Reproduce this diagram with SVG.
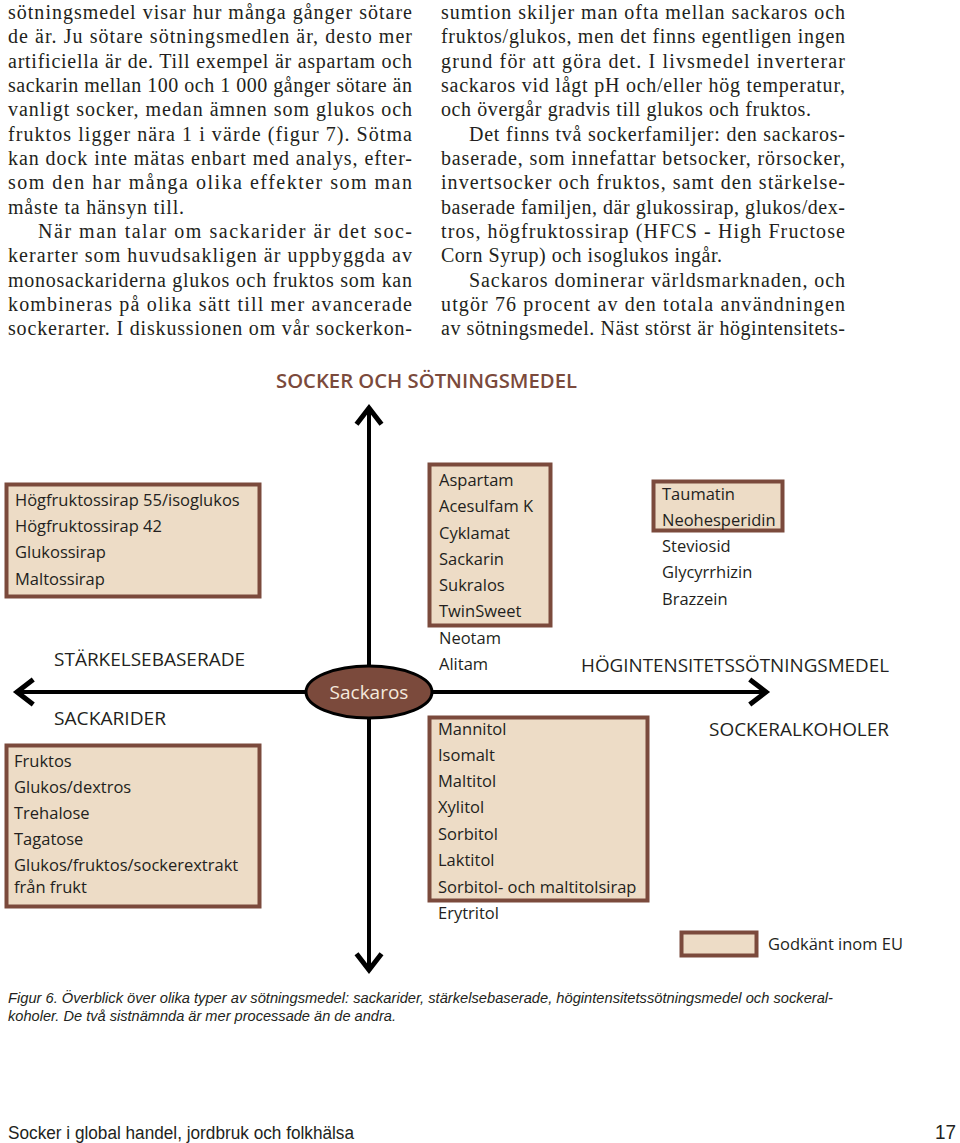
<svg xmlns="http://www.w3.org/2000/svg" width="960" height="1143" viewBox="0 0 960 1143">
<style>
.body{font-family:"Liberation Serif","Times New Roman",serif;font-size:20px;fill:#231f20}
.item{font-family:"Open Sans","Liberation Sans",sans-serif;font-size:16.5px;fill:#231f20}
.hdr{font-family:"Open Sans","Liberation Sans",sans-serif;font-size:18px;fill:#231f20}
.title{font-family:"Open Sans","Liberation Sans",sans-serif;font-size:19px;font-weight:600;fill:#7b4a3c}
.box{fill:#eddcc6;stroke:#7b4a3c;stroke-width:4}
.axis{stroke:#000;stroke-width:4;fill:none}
.cap{font-family:"Liberation Sans",sans-serif;font-size:14px;font-style:italic;fill:#231f20}
.foot{font-family:"Liberation Sans",sans-serif;fill:#231f20}
</style>
<defs>
<marker id="arr" markerUnits="userSpaceOnUse" markerWidth="30" markerHeight="30" viewBox="-16 -12 20 24" refX="0" refY="0" orient="auto">
<path d="M-13,-10 L0,0 L-13,10" fill="none" stroke="#000" stroke-width="4"/>
</marker>
</defs>
<g id="text-left">
<text class="body" x="8" y="19" textLength="404" lengthAdjust="spacing">sötningsmedel visar hur många gånger sötare</text>
<text class="body" x="8" y="43" textLength="404" lengthAdjust="spacing">de är. Ju sötare sötningsmedlen är, desto mer</text>
<text class="body" x="8" y="68" textLength="404" lengthAdjust="spacing">artificiella är de. Till exempel är aspartam och</text>
<text class="body" x="8" y="92" textLength="404" lengthAdjust="spacing">sackarin mellan 100 och 1 000 gånger sötare än</text>
<text class="body" x="8" y="116" textLength="404" lengthAdjust="spacing">vanligt socker, medan ämnen som glukos och</text>
<text class="body" x="8" y="141" textLength="404" lengthAdjust="spacing">fruktos ligger nära 1 i värde (figur 7). Sötma</text>
<text class="body" x="8" y="165" textLength="404" lengthAdjust="spacing">kan dock inte mätas enbart med analys, efter-</text>
<text class="body" x="8" y="189" textLength="404" lengthAdjust="spacing">som den har många olika effekter som man</text>
<text class="body" x="8" y="214" textLength="176" lengthAdjust="spacing">måste ta hänsyn till.</text>
<text class="body" x="38" y="238" textLength="374" lengthAdjust="spacing">När man talar om sackarider är det soc-</text>
<text class="body" x="8" y="262" textLength="404" lengthAdjust="spacing">kerarter som huvudsakligen är uppbyggda av</text>
<text class="body" x="8" y="287" textLength="404" lengthAdjust="spacing">monosackariderna glukos och fruktos som kan</text>
<text class="body" x="8" y="311" textLength="404" lengthAdjust="spacing">kombineras på olika sätt till mer avancerade</text>
<text class="body" x="8" y="335" textLength="404" lengthAdjust="spacing">sockerarter. I diskussionen om vår sockerkon-</text>
</g>
<g id="text-right">
<text class="body" x="441" y="19" textLength="404" lengthAdjust="spacing">sumtion skiljer man ofta mellan sackaros och</text>
<text class="body" x="441" y="43" textLength="404" lengthAdjust="spacing">fruktos/glukos, men det finns egentligen ingen</text>
<text class="body" x="441" y="68" textLength="404" lengthAdjust="spacing">grund för att göra det. I livsmedel inverterar</text>
<text class="body" x="441" y="92" textLength="404" lengthAdjust="spacing">sackaros vid lågt pH och/eller hög temperatur,</text>
<text class="body" x="441" y="116" textLength="370" lengthAdjust="spacing">och övergår gradvis till glukos och fruktos.</text>
<text class="body" x="469" y="141" textLength="376" lengthAdjust="spacing">Det finns två sockerfamiljer: den sackaros-</text>
<text class="body" x="441" y="165" textLength="404" lengthAdjust="spacing">baserade, som innefattar betsocker, rörsocker,</text>
<text class="body" x="441" y="189" textLength="404" lengthAdjust="spacing">invertsocker och fruktos, samt den stärkelse-</text>
<text class="body" x="441" y="214" textLength="404" lengthAdjust="spacing">baserade familjen, där glukossirap, glukos/dex-</text>
<text class="body" x="441" y="238" textLength="404" lengthAdjust="spacing">tros, högfruktossirap (HFCS - High Fructose</text>
<text class="body" x="441" y="262" textLength="281" lengthAdjust="spacing">Corn Syrup) och isoglukos ingår.</text>
<text class="body" x="469" y="287" textLength="376" lengthAdjust="spacing">Sackaros dominerar världsmarknaden, och</text>
<text class="body" x="441" y="311" textLength="404" lengthAdjust="spacing">utgör 76 procent av den totala användningen</text>
<text class="body" x="441" y="335" textLength="404" lengthAdjust="spacing">av sötningsmedel. Näst störst är högintensitets-</text>
</g>
<text id="title" class="title" x="276" y="388" textLength="301" lengthAdjust="spacingAndGlyphs">SOCKER OCH SÖTNINGSMEDEL</text>
<g id="connectors">
<line class="axis" x1="369" y1="970" x2="369" y2="408" marker-end="url(#arr)"/>
<line class="axis" x1="369" y1="408" x2="369" y2="970" marker-end="url(#arr)"/>
<line class="axis" x1="369" y1="692" x2="17" y2="692" marker-end="url(#arr)"/>
<line class="axis" x1="369" y1="692" x2="766" y2="692" marker-end="url(#arr)"/>
</g>
<g id="sackaros">
<ellipse cx="369" cy="692" rx="63" ry="26" fill="#7b4a3c" stroke="#000" stroke-width="3"/>
<text x="369" y="699" text-anchor="middle" font-family="Open Sans, Liberation Sans, sans-serif" font-size="19" fill="#f5e9dc">Sackaros</text>
</g>
<g id="starch-box">
<rect class="box" x="6.5" y="484.5" width="253" height="112"/>
<text class="item" x="15" y="506">Högfruktossirap 55/isoglukos</text>
<text class="item" x="15" y="532">Högfruktossirap 42</text>
<text class="item" x="15" y="558">Glukossirap</text>
<text class="item" x="15" y="585">Maltossirap</text>
</g>
<g id="intense-box">
<rect class="box" x="429.5" y="464.5" width="121" height="161"/>
<text class="item" x="439" y="486">Aspartam</text>
<text class="item" x="439" y="512">Acesulfam K</text>
<text class="item" x="439" y="539">Cyklamat</text>
<text class="item" x="439" y="565">Sackarin</text>
<text class="item" x="439" y="591">Sukralos</text>
<text class="item" x="439" y="617">TwinSweet</text>
<text class="item" x="439" y="644">Neotam</text>
<text class="item" x="439" y="670">Alitam</text>
</g>
<g id="natural-intense">
<rect class="box" x="653.5" y="481.5" width="129" height="49"/>
<text class="item" x="662" y="500">Taumatin</text>
<text class="item" x="662" y="526">Neohesperidin</text>
<text class="item" x="662" y="552">Steviosid</text>
<text class="item" x="662" y="578">Glycyrrhizin</text>
<text class="item" x="662" y="605">Brazzein</text>
</g>
<g id="labels">
<text class="hdr" x="581" y="672" textLength="308" lengthAdjust="spacingAndGlyphs">HÖGINTENSITETSSÖTNINGSMEDEL</text>
<text class="hdr" x="54" y="666" textLength="191" lengthAdjust="spacingAndGlyphs">STÄRKELSEBASERADE</text>
<text class="hdr" x="54" y="725" textLength="112" lengthAdjust="spacingAndGlyphs">SACKARIDER</text>
<text class="hdr" x="709" y="736" textLength="180" lengthAdjust="spacingAndGlyphs">SOCKERALKOHOLER</text>
</g>
<g id="sackarider-box">
<rect class="box" x="6.5" y="745.5" width="253" height="161"/>
<text class="item" x="14" y="767">Fruktos</text>
<text class="item" x="14" y="793">Glukos/dextros</text>
<text class="item" x="14" y="819">Trehalose</text>
<text class="item" x="14" y="845">Tagatose</text>
<text class="item" x="14" y="871">Glukos/fruktos/sockerextrakt</text>
<text class="item" x="14" y="893">från frukt</text>
</g>
<g id="alcohol-box">
<rect class="box" x="429.5" y="717.5" width="218" height="183"/>
<text class="item" x="438" y="735">Mannitol</text>
<text class="item" x="438" y="761">Isomalt</text>
<text class="item" x="438" y="787">Maltitol</text>
<text class="item" x="438" y="813">Xylitol</text>
<text class="item" x="438" y="840">Sorbitol</text>
<text class="item" x="438" y="866">Laktitol</text>
<text class="item" x="438" y="893">Sorbitol- och maltitolsirap</text>
<text class="item" x="438" y="919">Erytritol</text>
</g>
<g id="legend">
<rect class="box" x="681.5" y="932.5" width="75" height="23"/>
<text class="item" x="768" y="950" textLength="135" lengthAdjust="spacingAndGlyphs">Godkänt inom EU</text>
</g>
<g id="caption">
<text class="cap" x="8" y="1003" textLength="825" lengthAdjust="spacingAndGlyphs">Figur 6. Överblick över olika typer av sötningsmedel: sackarider, stärkelsebaserade, högintensitetssötningsmedel och sockeral-</text>
<text class="cap" x="8" y="1021" textLength="388" lengthAdjust="spacingAndGlyphs">koholer. De två sistnämnda är mer processade än de andra.</text>
</g>
<g id="footer">
<text class="foot" x="8" y="1139" font-size="18" textLength="346" lengthAdjust="spacingAndGlyphs">Socker i global handel, jordbruk och folkhälsa</text>
<text class="foot" x="935" y="1139" font-size="21" textLength="21" lengthAdjust="spacingAndGlyphs">17</text>
</g>
</svg>
